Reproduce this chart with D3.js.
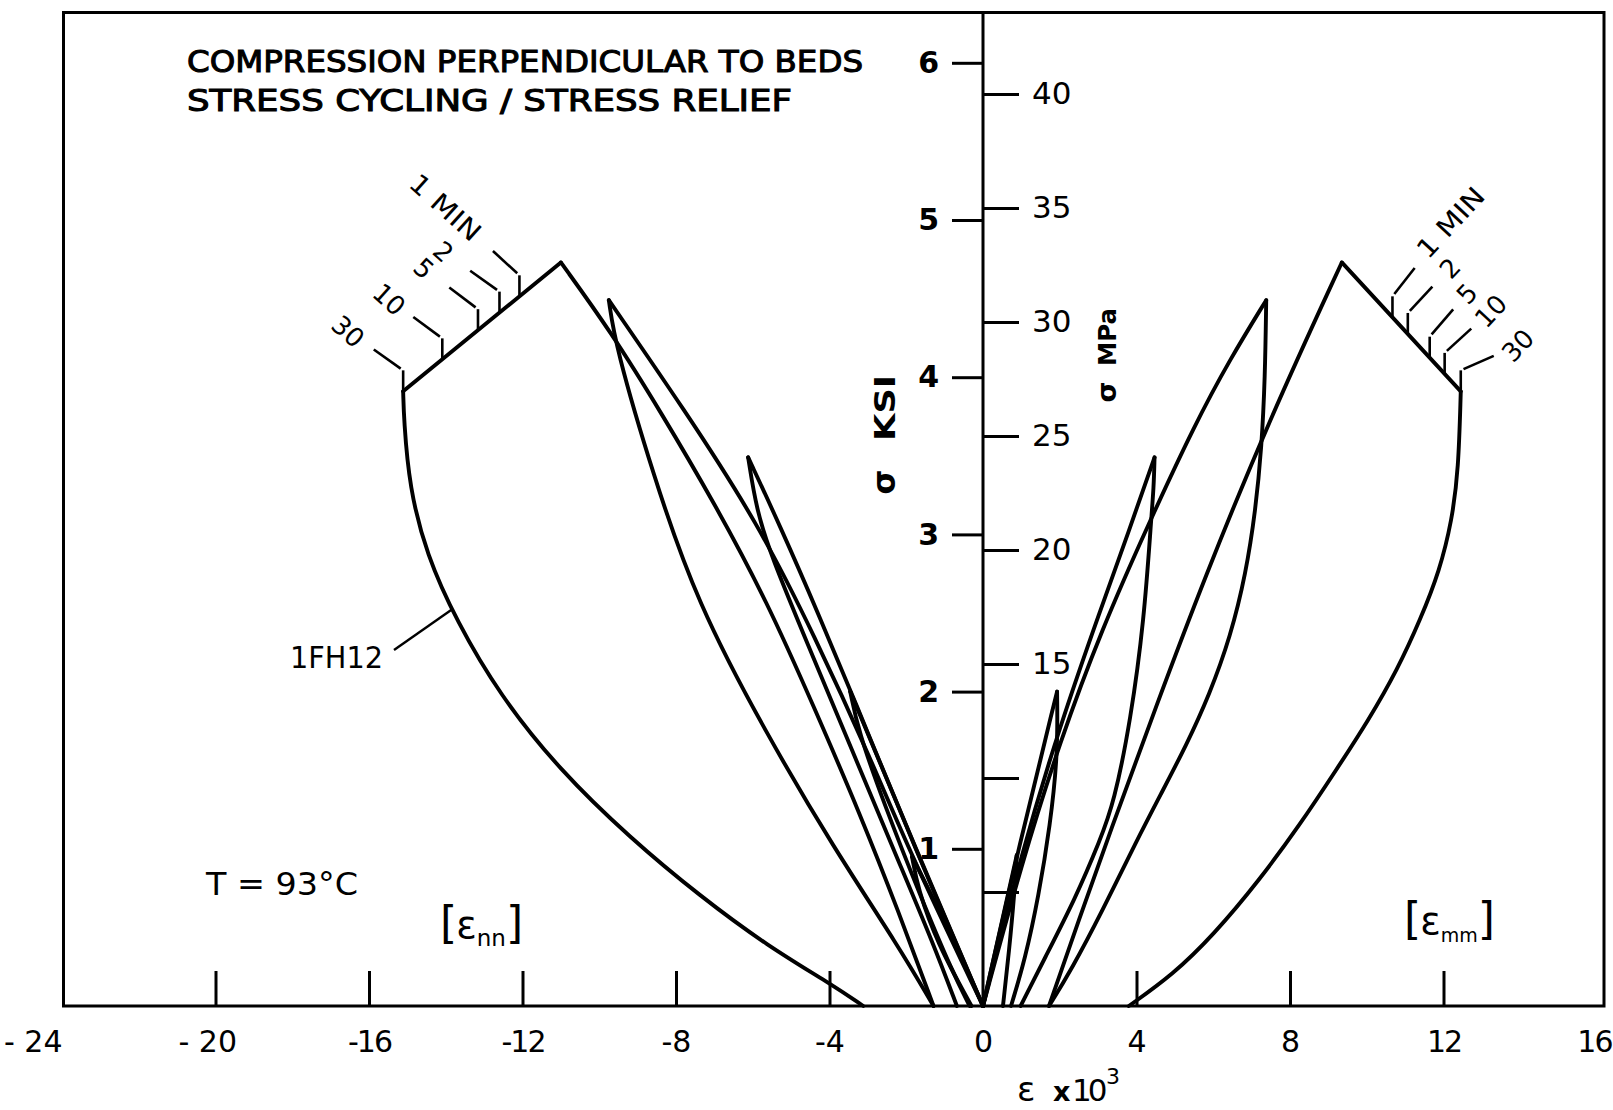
<!DOCTYPE html>
<html>
<head>
<meta charset="utf-8">
<script src="https://cdn.jsdelivr.net/npm/d3@7/dist/d3.min.js"></script>
<style>
html,body{margin:0;padding:0;background:#fff;}
svg{display:block;}
</style>
</head>
<body>
<svg id="chart" width="1613" height="1110"></svg>
<script>
// ---------------- data ----------------
const xTickValues = [-24,-20,-16,-12,-8,-4,0,4,8,12,16];
const xTickLabels = ["- 24","- 20","-16","-12","-8","-4","0","4","8","12","16"];
const ksiTickValues = [1,2,3,4,5,6];
const mpaTickValues = [5,10,15,20,25,30,35,40];
const mpaTickLabels = ["","","15","20","25","30","35","40"];

// εnn (left side): [strain x10^3, stress ksi]
const nnLoad1   = [[0,0],[-0.95,0.52],[-1.85,0.95]];
const nnUnload1 = [[-1.85,0.95],[-1.7,0.75],[-1.2,0.4],[-0.3,0]];
const nnLoad2   = [[0,0],[-1.75,1.0],[-3.46,2.0]];
const nnUnload2 = [[-3.46,2.0],[-3.25,1.75],[-2.6,1.3],[-1.6,0.68],[-0.8,0.22],[-0.35,0]];
const nnLoad3   = [[0,0],[-1.8,1.02],[-3.0,1.74],[-4.33,2.52],[-5.3,3.06],[-6.12,3.49]];
const nnUnload3 = [[-6.12,3.49],[-5.9,3.15],[-5.5,2.85],[-4.6,2.32],[-3.4,1.62],[-2.2,0.92],[-1.3,0.4],[-0.68,0]];
const nnLoad4   = [[0,0],[-1.95,1.0],[-2.9,1.56],[-4.4,2.36],[-5.86,3.07],[-7.8,3.8],[-9.75,4.49]];
const nnUnload4 = [[-9.75,4.49],[-9.58,4.2],[-8.6,3.38],[-7.45,2.56],[-5.64,1.73],[-3.9,1.01],[-2.2,0.38],[-1.29,0]];
const nnLoad5   = [[-1.29,0],[-2.2,0.6],[-3.2,1.22],[-4.4,1.9],[-5.64,2.58],[-7.0,3.2],[-8.4,3.78],[-9.7,4.29],[-11.0,4.73]];
const nnRelief  = [[-11.0,4.73],[-15.11,3.91]];
const nnUnload5 = [[-15.11,3.91],[-15.09,3.73],[-14.95,3.30],[-14.5,2.87],[-13.72,2.45],[-12.6,1.98],[-11.03,1.50],[-9.2,1.07],[-7.38,0.70],[-5.6,0.38],[-3.99,0.144],[-3.12,0]];

// εmm (right side)
const mmLoad1   = [[0,0],[0.88,0.96]];
const mmUnload1 = [[0.88,0.96],[0.82,0.72],[0.68,0.35],[0.52,0]];
const mmLoad2   = [[0,0],[0.9,0.98],[1.93,2.0]];
const mmUnload2 = [[1.93,2.0],[1.95,1.6],[1.75,1.15],[1.45,0.7],[1.1,0.3],[0.73,0]];
const mmLoad3   = [[0,0],[1.0,0.97],[2.0,1.78],[3.06,2.52],[3.8,3.02],[4.47,3.49]];
const mmUnload3 = [[4.47,3.49],[4.45,3.3],[4.38,3.09],[4.2,2.46],[3.85,1.82],[3.41,1.29],[3.06,1.06],[2.4,0.68],[1.6,0.3],[0.98,0]];
const mmLoad4   = [[0,0],[1.0,0.9],[2.0,1.68],[3.1,2.4],[4.3,3.06],[5.52,3.7],[6.45,4.12],[7.38,4.49]];
const mmUnload4 = [[7.38,4.49],[7.35,4.0],[7.26,3.55],[7.1,3.15],[6.85,2.75],[6.45,2.35],[5.9,1.98],[5.3,1.66],[4.64,1.35],[4.0,1.05],[3.1,0.6],[2.3,0.23],[1.72,0]];
const mmLoad5   = [[1.72,0],[2.5,0.55],[3.3,1.1],[4.5,1.9],[5.75,2.71],[7.46,3.73],[9.35,4.73]];
const mmRelief  = [[9.35,4.73],[12.45,3.91]];
const mmUnload5 = [[12.45,3.91],[12.39,3.41],[12.22,3.09],[11.9,2.77],[11.4,2.46],[10.8,2.14],[10.05,1.82],[9.2,1.5],[8.25,1.15],[7.2,0.8],[6.0,0.45],[4.95,0.2],[3.8,0]];

// stress-relief time marks (minutes) and where they sit on the relief lines
const reliefMinutes   = ["1 MIN","2","5","10","30"];
const nnReliefStrain  = [-12.08,-12.6,-13.16,-14.09,-15.11];
const mmReliefStrain  = [10.67,11.07,11.64,12.03,12.45];

const titleLines = ["COMPRESSION PERPENDICULAR TO BEDS","STRESS CYCLING / STRESS RELIEF"];

// ---------------- layout ----------------
const FONT = "'DejaVu Sans', 'Liberation Sans', Arial, sans-serif";
const svg = d3.select("#chart");
const x = d3.scaleLinear().domain([-24,16]).range([62,1597]);
const y = d3.scaleLinear().domain([0,6.32]).range([1006,12.5]);
const yMPa = d3.scaleLinear().domain([0,6.32*6.894757]).range([1006,12.5]);

const root = svg.append("g");

// frame
const fL = x(-24)+1.5, fR = x(16)+7, fT = y.range()[1], fB = y(0);
root.append("path")
  .attr("d",`M${fL},${fB}V${fT}H${fR}V${fB}Z`)
  .attr("fill","none").attr("stroke","#000").attr("stroke-width",3);

// zero (stress) axis
root.append("line").attr("x1",x(0)).attr("x2",x(0)).attr("y1",fT).attr("y2",fB)
  .attr("stroke","#000").attr("stroke-width",3);

function styleAxis(sel, fs, weight){
  sel.select(".domain").remove();
  sel.selectAll("line").attr("stroke","#000").attr("stroke-width",3);
  sel.selectAll("text").attr("fill","#000").attr("font-family",FONT)
     .attr("font-size",fs).attr("font-weight",weight||"normal");
}

// x tick marks pointing up
root.append("g").attr("transform",`translate(0,${y(0)})`)
  .call(d3.axisTop(x).tickValues(xTickValues.filter(v=>v!==0&&v!==-24&&v!==16)).tickSize(35).tickFormat(""))
  .call(s=>styleAxis(s,30));

// x tick labels
const xl = root.append("g").attr("transform",`translate(0,${y(0)})`)
  .call(d3.axisBottom(x).tickValues(xTickValues).tickSize(0).tickPadding(25)
        .tickFormat((d,i)=>xTickLabels[i]))
  .call(s=>styleAxis(s,30));
xl.selectAll("text")
  .attr("text-anchor", d => (d===-24||d===-20||d===16) ? "end" : "middle")
  .attr("dx", d => d===-24 ? 0 : (d===-20 ? 21 : (d===16 ? 14 : 0)))
  .attr("letter-spacing", (d,i) => xTickLabels[i].includes("1") ? -2 : 0);

// ksi axis (left ticks on zero line)
root.append("g").attr("transform",`translate(${x(0)},0)`)
  .call(d3.axisLeft(y).tickValues(ksiTickValues).tickSize(31).tickPadding(13).tickFormat(d3.format("d")))
  .call(s=>styleAxis(s,30,"bold"));

// MPa axis (right ticks on zero line)
root.append("g").attr("transform",`translate(${x(0)},0)`)
  .call(d3.axisRight(yMPa).tickValues(mpaTickValues).tickSize(36).tickPadding(13)
        .tickFormat((d,i)=>mpaTickLabels[i]))
  .call(s=>styleAxis(s,31));

// curves
const smooth = d3.line().x(d=>x(d[0])).y(d=>y(d[1])).curve(d3.curveBasis);
const straight = d3.line().x(d=>x(d[0])).y(d=>y(d[1]));
const curveG = root.append("g").attr("fill","none").attr("stroke","#000")
  .attr("stroke-width",3.9).attr("stroke-linecap","round").attr("stroke-linejoin","round");
[nnLoad1,nnUnload1,nnLoad2,nnUnload2,nnLoad3,nnUnload3,nnLoad4,nnUnload4,nnLoad5,nnUnload5,
 mmLoad1,mmUnload1,mmLoad2,mmUnload2,mmLoad3,mmUnload3,mmLoad4,mmUnload4,mmLoad5,mmUnload5]
 .forEach(c=>curveG.append("path").attr("d",smooth(c)));
[nnRelief,mmRelief].forEach(c=>curveG.append("path").attr("d",straight(c)));

// relief time marks: tick up from the relief line, leader toward the label
const ann = root.append("g");
// label offsets from the top of each tick (annotation layout)
const nnLabelOffset = [[-74,-68],[-56,-40],[-54,-41],[-53,-39],[-55,-39]];
const mmLabelOffset = [[58,-74],[42,-45],[37,-43],[46,-42],[57,-25]];
function reliefMarks(relief, strains, offsets, rot){
  const [p0,p1] = relief;
  strains.forEach((e,i)=>{
    const s = p0[1] + (e-p0[0])*(p1[1]-p0[1])/(p1[0]-p0[0]);
    const px = x(e), py = y(s), top = py-21;
    ann.append("line").attr("x1",px).attr("y1",py).attr("x2",px).attr("y2",top)
      .attr("stroke","#000").attr("stroke-width",2.6);
    const [ox,oy] = offsets[i];
    const len = Math.hypot(ox,oy), ux = ox/len, uy = oy/len;
    ann.append("line").attr("x1",px+ux*3).attr("y1",top+uy*3)
      .attr("x2",px+ux*36).attr("y2",top+uy*36)
      .attr("stroke","#000").attr("stroke-width",2.6);
    const t = ann.append("text").attr("transform",`translate(${px+ox},${top+oy}) rotate(${rot})`)
      .attr("text-anchor","middle").attr("dy","0.36em")
      .attr("font-family",FONT).attr("font-size",26).text(reliefMinutes[i]);
    if(i===0) t.attr("textLength",86).attr("lengthAdjust","spacingAndGlyphs");
  });
}
reliefMarks(nnRelief, nnReliefStrain, nnLabelOffset, 42);
reliefMarks(mmRelief, mmReliefStrain, mmLabelOffset, -47);

// texts
const T = root.append("g").attr("font-family",FONT).attr("fill","#000");
T.append("text").attr("x",187).attr("y",72).attr("font-size",31)
  .attr("stroke","#000").attr("stroke-width",1.1)
  .attr("textLength",676).attr("lengthAdjust","spacingAndGlyphs").text(titleLines[0]);
T.append("text").attr("x",187).attr("y",111).attr("font-size",31)
  .attr("stroke","#000").attr("stroke-width",1.1)
  .attr("textLength",605).attr("lengthAdjust","spacingAndGlyphs").text(titleLines[1]);

T.append("text").attr("x",206).attr("y",895).attr("font-size",32)
  .attr("textLength",152).attr("lengthAdjust","spacingAndGlyphs").text("T = 93°C");

// specimen label with leader
T.append("text").attr("x",290).attr("y",668).attr("font-size",30)
  .attr("textLength",93).attr("lengthAdjust","spacingAndGlyphs").text("1FH12");
const leadS = 2.52;
const leadE = d3.scaleLinear().domain([2.87,2.45]).range([-14.5,-13.72])(leadS);
root.append("line").attr("x1",394).attr("y1",650).attr("x2",x(leadE)).attr("y2",y(leadS))
  .attr("stroke","#000").attr("stroke-width",2.4);

// strain component labels
function bracketLabel(x0, yb, sub, subSize){
  const t = T.append("text").attr("x",x0).attr("y",yb).attr("font-size",44);
  t.append("tspan").text("[");
  t.append("tspan").attr("font-size",38).attr("dx",-1).text("ε");
  t.append("tspan").attr("font-size",subSize).attr("dy",8).text(sub);
  t.append("tspan").attr("dy",-8).text("]");
}
bracketLabel(440, 938, "nn", 23);
bracketLabel(1404, 934, "mm", 19);

// axis titles
function vtext(xb, yc, str, fs, len, weight){
  const t = T.append("text").attr("transform",`translate(${xb},${yc}) rotate(-90)`)
    .attr("text-anchor","middle").attr("font-size",fs).attr("font-weight",weight||"normal").text(str);
  if(len) t.attr("textLength",len).attr("lengthAdjust","spacingAndGlyphs");
}
vtext(895, 482, "σ", 32, null, "bold");
vtext(895, 408, "KSI", 28, 66, "bold");
vtext(1116, 392, "σ", 27, null, "bold");
vtext(1116, 337, "MPa", 25, 58, "bold");

// strain axis title: ε x 10^3
const xt = T.append("text").attr("x",1017).attr("y",1101).attr("font-size",34);
xt.append("tspan").text("ε");
xt.append("tspan").attr("x",1053).attr("font-size",27).attr("font-weight","bold").text("x");
xt.append("tspan").attr("x",1072).attr("font-size",31).attr("letter-spacing",-4).text("10");
xt.append("tspan").attr("x",1106).attr("dy",-17).attr("font-size",22).text("3");
</script>
</body>
</html>
